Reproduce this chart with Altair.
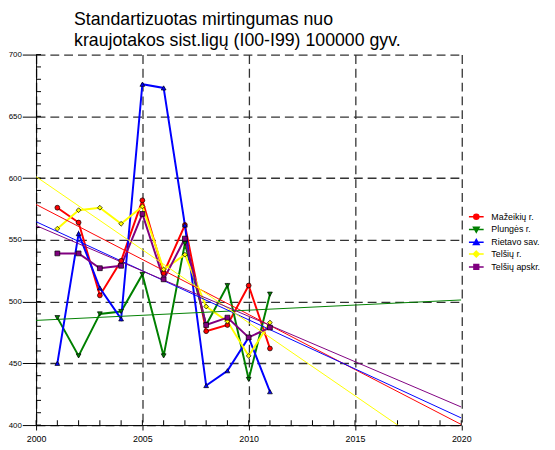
import altair as alt
import pandas as pd

years = list(range(2001, 2012))
series_names = ["Mažeikių r.", "Plungės r.", "Rietavo sav.", "Telšių r.", "Telšių apskr."]
mazeikiu = [576, 564, 505, 533, 582, 523, 562, 476, 481, 513, 462]
plunges = [487, 456, 490, 492, 522, 456, 547, 481, 513, 437, 506]
rietavo = [450, 555, 511, 486, 676, 673, 562, 432, 444, 471, 427]
telsiu_r = [559, 574, 576, 563, 577, 526, 538, 496, 484, 456, 483]
telsiu_apskr = [539, 539, 527, 529, 571, 518, 551, 481, 487, 471, 479]
colors = ["#ff0000", "#008000", "#0000ff", "#ffff00", "#800080"]
shapes = ["circle", "triangle-down", "triangle-up", "diamond", "square"]
legend_shapes = [
    "M-1.3,0H1.3M0.45,0A0.45,0.45,0,1,1,-0.45,0A0.45,0.45,0,1,1,0.45,0Z",
    "M-1.3,0H1.3M-0.5,-0.4H0.5L0,0.48Z",
    "M-1.3,0H1.3M-0.5,0.4H0.5L0,-0.48Z",
    "M-1.3,0H1.3M0,-0.52L0.52,0L0,0.52L-0.52,0Z",
    "M-1.3,0H1.3M-0.42,-0.42H0.42V0.42H-0.42Z",
]
x_major = [2000, 2005, 2010, 2015, 2020]
x_minor = list(range(2000, 2021))
y_major = [400, 450, 500, 550, 600, 650, 700]
y_minor = list(range(400, 701, 10))
title_lines = ["Standartizuotas mirtingumas nuo", "kraujotakos sist.ligų (I00-I99) 100000 gyv."]

rows = []
for name, vals in zip(series_names, [mazeikiu, plunges, rietavo, telsiu_r, telsiu_apskr]):
    for yr, v in zip(years, vals):
        rows.append({"year": yr, "value": v, "series": name})
df = pd.DataFrame(rows)
# minor tick positions, anchored on the axis lines (lowest y tick / first x tick)
xminor_df = pd.DataFrame({"year": x_minor, "value": [y_major[0]] * len(x_minor)})
yminor_df = pd.DataFrame({"value": y_minor, "year": [x_major[0]] * len(y_minor)})

W, H = 431.5, 376
FONT = "Liberation Sans"
xscale = alt.Scale(domain=[2000, 2020], nice=False, zero=False)
yscale = alt.Scale(domain=[400, 700], nice=False, zero=False)
cscale = alt.Scale(domain=series_names, range=colors)
grid_kw = dict(grid=True, gridDash=[9, 5], gridColor="#333333", gridWidth=1.3)

x_main = alt.X("year:Q", scale=xscale, axis=alt.Axis(
    orient="bottom", values=x_major, format="d", title=None, tickSize=5, tickColor="black",
    domainColor="black", labelFont=FONT, labelFontSize=9, labelColor="black", labelPadding=5,
    labelFlush=False, **grid_kw))
y_main = alt.Y("value:Q", scale=yscale, axis=alt.Axis(
    orient="left", values=y_major, title=None, tickSize=14, tickColor="black",
    domainColor="black", labelFont=FONT, labelFontSize=8, labelColor="black", labelPadding=1,
    labelFlush=False, **grid_kw))

x_minor_ticks = alt.Chart(xminor_df).mark_tick(
    orient="vertical", size=5, thickness=1, color="black", opacity=1, yOffset=-2.5
).encode(
    x=alt.X("year:Q", scale=xscale, axis=None),
    y=alt.Y("value:Q", scale=yscale, axis=None),
)
y_minor_ticks = alt.Chart(yminor_df).mark_tick(
    orient="horizontal", size=5, thickness=1, color="black", opacity=1, xOffset=2.5
).encode(
    x=alt.X("year:Q", scale=xscale, axis=None),
    y=alt.Y("value:Q", scale=yscale, axis=None),
)

trend = alt.Chart(df).transform_regression(
    "year", "value", groupby=["series"], extent=[2000, 2020]
).mark_line(clip=True, strokeWidth=1).encode(
    x=alt.X("year:Q", scale=xscale, axis=None),
    y=alt.Y("value:Q", scale=yscale, axis=None),
    color=alt.Color("series:N", scale=cscale, legend=None),
    detail="series:N",
)

lines = alt.Chart(df).mark_line(strokeWidth=2, clip=True).encode(
    x=x_main, y=y_main,
    color=alt.Color("series:N", scale=cscale, legend=None),
    order="year:Q",
)

points = alt.Chart(df).mark_point(filled=True, stroke="black", strokeWidth=0.7, size=24, opacity=1, clip=True).encode(
    x=alt.X("year:Q", scale=xscale, axis=None),
    y=alt.Y("value:Q", scale=yscale, axis=None),
    color=alt.Color("series:N", scale=cscale, legend=None),
    shape=alt.Shape("series:N", scale=alt.Scale(domain=series_names, range=shapes), legend=None),
)

legend_props = dict(
    orient="none", legendX=440.25, legendY=158, title=None, padding=0,
    labelFont=FONT, labelFontSize=9, labelColor="black", symbolSize=132,
    symbolStrokeWidth=1.5, rowPadding=0, labelOffset=8.75, symbolType="circle",
)
legend_layer = alt.Chart(df).transform_filter("datum.year > 3000").mark_point(filled=True, opacity=1).encode(
    x=alt.X("year:Q", scale=xscale, axis=None),
    y=alt.Y("value:Q", scale=yscale, axis=None),
    fill=alt.Fill("series:N", scale=alt.Scale(domain=series_names, range=colors), legend=alt.Legend(**legend_props)),
    stroke=alt.Stroke("series:N", scale=alt.Scale(domain=series_names, range=colors), legend=alt.Legend(**legend_props)),
    shape=alt.Shape("series:N", scale=alt.Scale(domain=series_names, range=legend_shapes), legend=alt.Legend(**legend_props)),
)

chart = alt.layer(lines, x_minor_ticks, y_minor_ticks, trend, points, legend_layer).resolve_scale(
    shape="independent", fill="independent", stroke="independent"
).resolve_axis(x="independent", y="independent").resolve_legend(
    shape="independent", fill="independent", stroke="independent"
).properties(
    width=W, height=H,
    padding={"left": 28.5, "top": 44, "right": 87, "bottom": 20},
    autosize=alt.AutoSizeParams(type="none"),
    title=alt.TitleParams(text=title_lines, anchor="start", frame="group", font=FONT, fontSize=18,
                          fontWeight="normal", color="black", dx=38.5, offset=1, lineHeight=21),
    background="white",
).configure_view(strokeWidth=0)

chart.save("out.html", embed_options={"renderer": "svg", "actions": False})
